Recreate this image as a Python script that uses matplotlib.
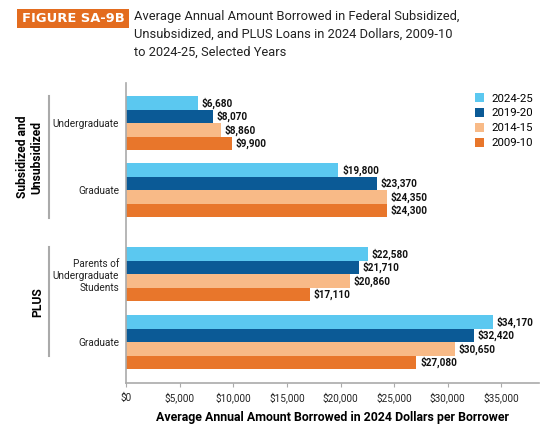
import matplotlib.pyplot as plt
import matplotlib.patches as mpatches
from matplotlib.ticker import FuncFormatter

plt.rcParams['font.family'] = ['Roboto', 'DejaVu Sans']

categories = ['Undergraduate', 'Graduate', 'Parents of\nUndergraduate\nStudents', 'Graduate']
years = ['2024-25', '2019-20', '2014-15', '2009-10']
vals_2024 = [6680, 19800, 22580, 34170]
vals_2019 = [8070, 23370, 21710, 32420]
vals_2014 = [8860, 24350, 20860, 30650]
vals_2009 = [9900, 24300, 17110, 27080]
series = [vals_2024, vals_2019, vals_2014, vals_2009]
colors = ['#5BC8F0', '#0B5A96', '#F8BA87', '#E8762B']

W, H = 557, 430
fig = plt.figure(figsize=(W / 100, H / 100), dpi=100)
ax = fig.add_axes([126 / W, (H - 383) / H, (539 - 126) / W, 300 / H])

# layout in pixel-like units (y grows downward)
group_top = [96, 163, 247, 315]
bh = 13.6
for i, (vals, c, yr) in enumerate(zip(series, colors, years)):
    ys = [g + (i + 0.5) * bh for g in group_top]
    ax.barh(ys, vals, height=bh, color=c, label=yr)
    for y, v in zip(ys, vals):
        ax.text(v + 350, y, f'${v:,}', va='center', ha='left', fontsize=7.2,
                fontweight='bold', color='#111111')

ax.set_ylim(383, 83)
ax.set_xlim(0, 38500)
ax.set_xticks(range(0, 35001, 5000))
ax.xaxis.set_major_formatter(FuncFormatter(lambda v, p: f'${int(v):,}'))
ax.tick_params(axis='x', labelsize=7.2, length=3, color='#aaaaaa', pad=4, labelcolor='#222222')
ax.set_yticks([g + 2 * bh for g in group_top])
ax.set_yticklabels(categories, fontsize=7.2, color='#222222')
ax.tick_params(axis='y', length=0, pad=5)
for s in ['top', 'right']:
    ax.spines[s].set_visible(False)
for s in ['left', 'bottom']:
    ax.spines[s].set_color('#aaaaaa')
    ax.spines[s].set_linewidth(1.2)
ax.set_xlabel('Average Annual Amount Borrowed in 2024 Dollars per Borrower',
              fontsize=8.9, fontweight='bold', labelpad=5)

leg = ax.legend(loc='upper right', bbox_to_anchor=(1.01, 1.0), frameon=False, fontsize=8.2,
                handlelength=0.8, handleheight=0.8, handletextpad=0.6, labelspacing=0.4)

# group brackets and labels
fig.add_artist(plt.Line2D([49 / W, 49 / W], [(H - 96) / H, (H - 218) / H],
                          color='#aaaaaa', lw=1.5))
fig.add_artist(plt.Line2D([49 / W, 49 / W], [(H - 247) / H, (H - 356) / H],
                          color='#aaaaaa', lw=1.5))
fig.text(30 / W, (H - 157) / H, 'Subsidized and\nUnsubsidized', rotation=90,
         ha='center', va='center', fontsize=8.7, fontweight='bold', linespacing=1.1)
fig.text(38 / W, (H - 302) / H, 'PLUS', rotation=90, ha='center', va='center',
         fontsize=8.7, fontweight='bold')

# title
fig.add_artist(mpatches.Rectangle((17 / W, (H - 28) / H), 112 / W, 19 / H,
                                  transform=fig.transFigure, facecolor='#E36C1F',
                                  edgecolor='none', zorder=1))
fig.text(73 / W, (H - 18.5) / H, 'FIGURE SA-9B', ha='center', va='center',
         fontsize=9.4, fontweight='bold', color='white', family='DejaVu Sans', zorder=3)
fig.text(134 / W, (H - 10) / H,
         'Average Annual Amount Borrowed in Federal Subsidized,\n'
         'Unsubsidized, and PLUS Loans in 2024 Dollars, 2009-10\n'
         'to 2024-25, Selected Years',
         ha='left', va='top', fontsize=9.3, linespacing=1.5, color='#222222')

fig.savefig('out.png', dpi=100)
